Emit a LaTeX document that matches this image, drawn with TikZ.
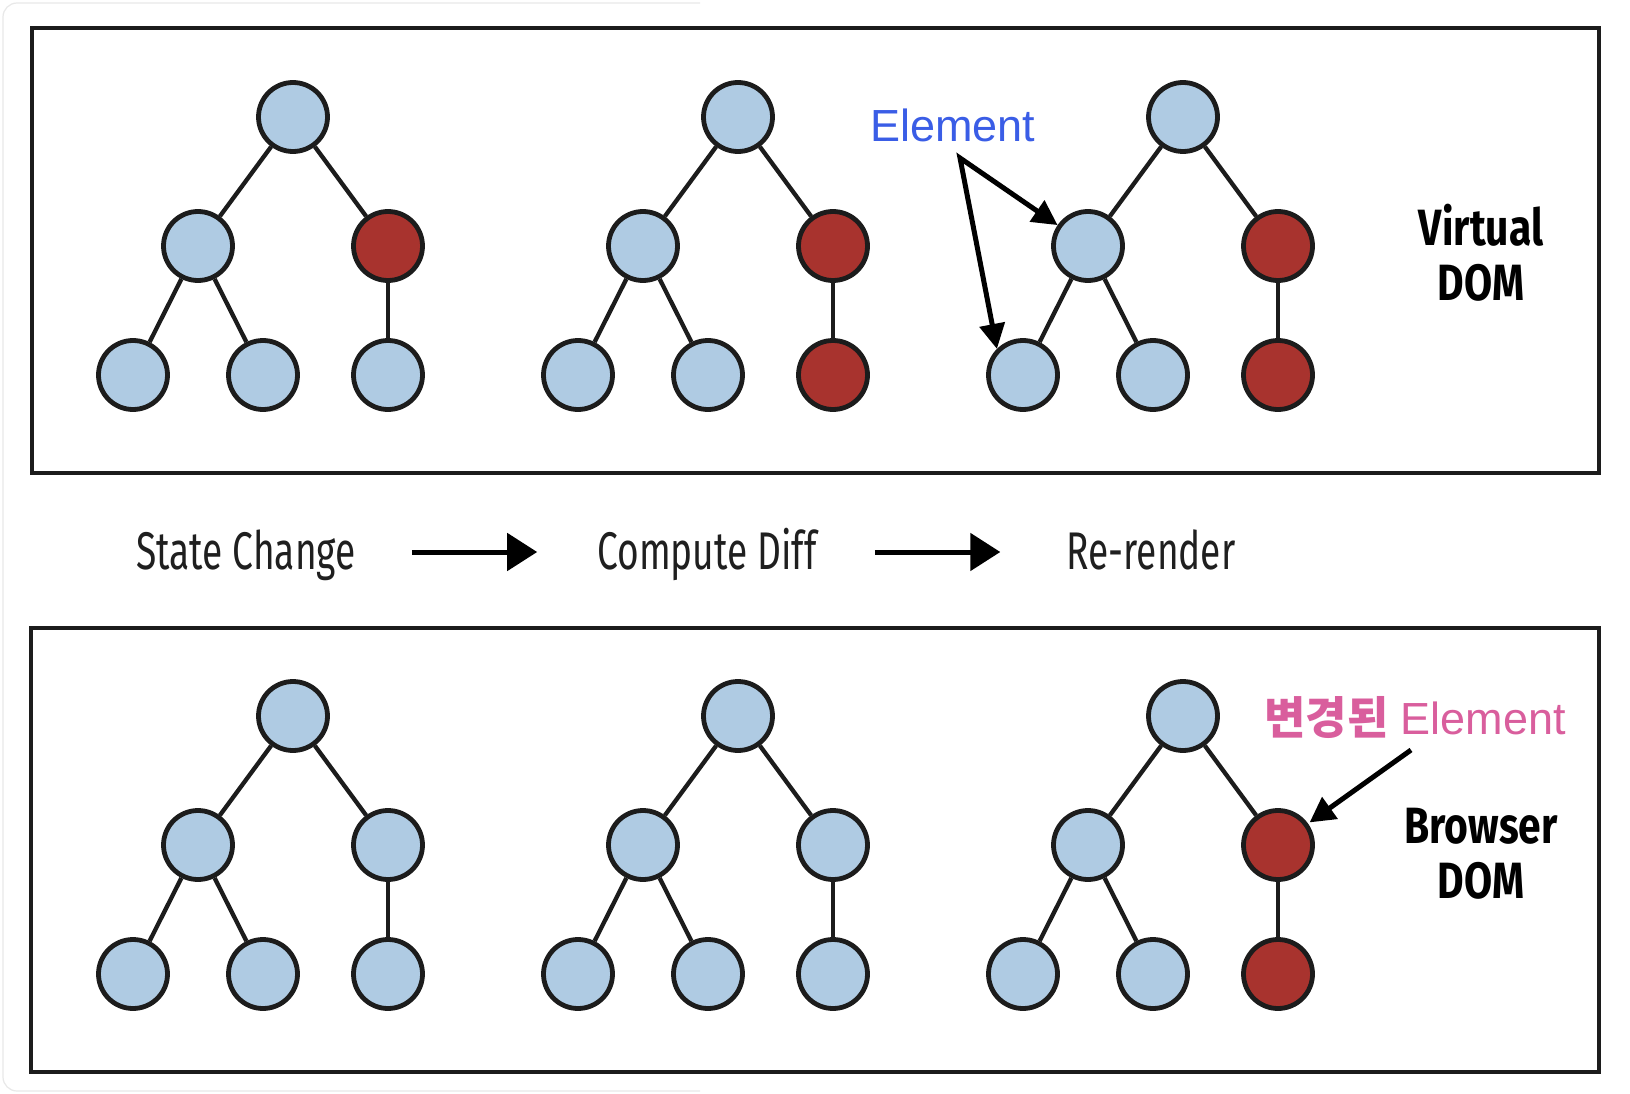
\documentclass[tikz,border=0pt]{standalone}
\usepackage{fontspec}
\usetikzlibrary{arrows.meta}
\newfontfamily\condfont[FakeStretch=0.70]{Fira Sans}
\newfontfamily\condbold[FakeStretch=0.80]{Fira Sans}
\newfontfamily\lsans{Liberation Sans}
\newfontfamily\krfont{Noto Sans CJK KR}
\definecolor{nodeblue}{HTML}{AFCBE3}
\definecolor{nodered}{HTML}{A8332E}
\definecolor{ink}{HTML}{1C1C1C}
\definecolor{elblue}{HTML}{3A5DE6}
\definecolor{elpink}{HTML}{D95E9D}
\tikzset{
  dnode/.style={circle, draw=ink, line width=4.8pt, minimum size=69pt, inner sep=0pt, fill=nodeblue},
  rnode/.style={dnode, fill=nodered},
  treeedge/.style={draw=ink, line width=4.3pt},
  panel/.style={draw=ink, line width=4.5pt},
  midlabel/.style={inner sep=0pt, text height=37pt, text depth=3pt, text=black!88,
    font=\condfont\fontsize{53}{53}\selectfont},
  domlabel/.style={inner sep=0pt, anchor=base, text=black,
    font=\condbold\bfseries\fontsize{51}{51}\selectfont},
  flowarrow/.style={draw=black, line width=5pt, -{Triangle[length=30pt,width=37pt]}},
  elarrow/.style={draw=black, line width=5pt},
}
\newcommand\drawtree[5]{%
  \node[dnode] (#1r) at (293+#2,117+#3) {};
  \node[dnode] (#1ml) at (198+#2,246+#3) {};
  \node[#4] (#1mr) at (388+#2,246+#3) {};
  \node[dnode] (#1la) at (133+#2,375+#3) {};
  \node[dnode] (#1lb) at (263+#2,375+#3) {};
  \node[#5] (#1lc) at (388+#2,375+#3) {};
  \draw[treeedge] (#1r) -- (#1ml);
  \draw[treeedge] (#1r) -- (#1mr);
  \draw[treeedge] (#1ml) -- (#1la);
  \draw[treeedge] (#1ml) -- (#1lb);
  \draw[treeedge] (#1mr) -- (#1lc);
}
\begin{document}
\begin{tikzpicture}[x=1pt,y=-1pt]
\useasboundingbox (0,0) rectangle (1630,1094);
\fill[white] (0,0) rectangle (1630,1094);
\draw[black!9, line width=1.2pt, rounded corners=14pt] (700,3) -- (3,3) -- (3,1091) -- (700,1091);
% panels
\draw[panel] (32,28) rectangle (1599,473);
\draw[panel] (31,628) rectangle (1599,1072);
% virtual DOM trees
\drawtree{ta}{0}{0}{rnode}{dnode}
\drawtree{tb}{445}{0}{rnode}{rnode}
\drawtree{tc}{890}{0}{rnode}{rnode}
% browser DOM trees
\drawtree{ba}{0}{599}{dnode}{dnode}
\drawtree{bb}{445}{599}{dnode}{dnode}
\drawtree{bc}{890}{599}{rnode}{rnode}
% side labels
\node[domlabel] (vdoma) at (1481,245) {Virtual};
\node[domlabel] (vdomb) at (1481,300) {DOM};
\node[domlabel] (bdoma) at (1481,843) {Browser};
\node[domlabel] (bdomb) at (1481,898) {DOM};
% flow labels
\node[midlabel] (sc) at (246,552) {State Change};
\node[midlabel] (cd) at (707,552) {Compute Diff};
\node[midlabel] (rr) at (1151,552) {Re-render};
\draw[flowarrow, shorten <=56pt, shorten >=60pt] (sc) -- (cd);
\draw[flowarrow, shorten <=58pt, shorten >=66pt] (cd) -- (rr);
% Element annotation
\node[anchor=base west, inner sep=0pt, text=elblue, font=\lsans\fontsize{45}{45}\selectfont] (ellabel) at (870,142) {Element};
\coordinate (elapex) at (960,158);
\draw[elarrow, {Triangle[length=25pt,width=25pt]}-{Triangle[length=25pt,width=25pt]}, line join=miter]
  (tcml) -- (elapex) -- (tcla.135);
% changed element annotation
\node[anchor=base west, inner sep=0pt, text=elpink, font=\lsans\fontsize{45}{45}\selectfont] (chglabel) at (1264,734)
  {{\krfont\bfseries\fontsize{45}{45}\selectfont 변경된} Element};
\coordinate (chgstart) at (1411,750);
\draw[elarrow, -{Triangle[length=25pt,width=26pt]}, shorten >=2pt] (chgstart) -- (bcmr);
\end{tikzpicture}
\end{document}
